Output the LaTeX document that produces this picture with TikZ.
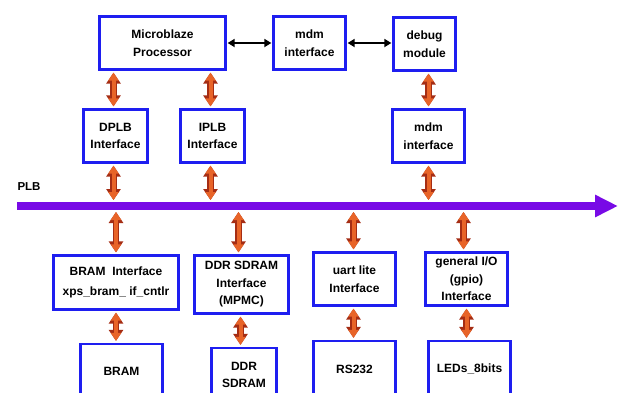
\documentclass[tikz,border=0pt]{standalone}
\usepackage{fontspec}
\setmainfont{Liberation Sans}
\usetikzlibrary{arrows.meta}
\definecolor{boxblue}{RGB}{30,30,240}
\definecolor{buspurple}{RGB}{120,10,230}
\definecolor{arroworange}{RGB}{232,100,40}
\definecolor{arrowedge}{RGB}{165,45,20}
\begin{document}
\begin{tikzpicture} [
          x = 1pt, y = -1pt,
          block/.style = {draw=boxblue, line width=2.3pt, fill=white, inner sep=0pt, align=center,
                          font=\bfseries\fontsize{12}{17.5}\selectfont},
          fatarrow/.style = {draw=arroworange, line width=4pt, shorten >=2pt, shorten <=2pt,
                          {Triangle[width=10pt,length=8pt]}-{Triangle[width=10pt,length=8pt]},
                          preaction={draw=arrowedge, line width=6.5pt,
                          {Triangle[width=14pt,length=11pt]}-{Triangle[width=14pt,length=11pt]}}},
          link/.style = {draw=black, line width=1.7pt, shorten >=1pt, shorten <=1pt,
                          {Triangle[width=8pt,length=7pt]}-{Triangle[width=8pt,length=7pt]}},
          bus/.style = {draw=buspurple, line width=8pt, -{Triangle[width=21pt,length=23pt]}}
          ]
          \useasboundingbox[fill=white] (0,0) rectangle (621,392);
          \node[block, minimum width=126pt, minimum height=53pt] (cpu) at (162.5,43) {Microblaze\\Processor};
          \node[block, minimum width=72pt, minimum height=53pt] (mdmif) at (309.5,43) {mdm\\interface};
          \node[block, minimum width=62pt, minimum height=53pt] (debug) at (424.5,44) {debug\\module};
          \node[block, minimum width=64pt, minimum height=53pt] (dplb) at (115.5,136) {DPLB\\Interface};
          \node[block, minimum width=64pt, minimum height=53pt] (iplb) at (212.5,136) {IPLB\\Interface};
          \node[block, minimum width=72pt, minimum height=53pt] (mdm) at (428.5,136) {mdm\\interface};
          \node[font=\bfseries\fontsize{11.5}{13}\selectfont, anchor=west] (plb) at (14,187) {PLB};
          \coordinate (busL) at (17,206);
          \coordinate (busR) at (618,206);
          \draw[bus] (busL) -- (busR);
          \node[block, minimum width=125pt, minimum height=54pt] (bramif) at (116,282.5) {BRAM\ \ Interface\\[3pt]xps\_bram\_ if\_cntlr};
          \node[block, minimum width=94pt, minimum height=58pt] (ddrif) at (241.5,284.5) {DDR SDRAM\\Interface\\(MPMC)};
          \node[block, minimum width=82pt, minimum height=53pt] (uart) at (354.5,279) {uart lite\\Interface};
          \node[block, minimum width=82pt, minimum height=53pt] (gpio) at (466.5,279) {general I/O\\(gpio)\\Interface};
          \node[block, minimum width=82pt, minimum height=54pt] (bram) at (121.5,371) {BRAM};
          \node[block, minimum width=65pt, minimum height=54pt] (ddr) at (244,375) {DDR\\SDRAM};
          \node[block, minimum width=82pt, minimum height=56pt] (rs232) at (354.5,369) {RS232};
          \node[block, minimum width=82pt, minimum height=56pt] (leds) at (469.5,369) {LEDs\_8bits};
          \draw[link] (cpu.east) -- (mdmif.west);
          \draw[link] (mdmif.east) -- (debug.west |- mdmif.east);
          \draw[fatarrow] ([xshift=-2pt]dplb.north |- cpu.south) -- ([xshift=-2pt]dplb.north);
          \draw[fatarrow] ([xshift=-2pt]iplb.north |- cpu.south) -- ([xshift=-2pt]iplb.north);
          \draw[fatarrow] (debug.south -| mdm.north) -- (mdm.north);
          \draw[fatarrow, shorten >=6pt] ([xshift=-2pt]dplb.south) -- ([xshift=-2pt]dplb.south |- busL);
          \draw[fatarrow, shorten >=6pt] ([xshift=-2pt]iplb.south) -- ([xshift=-2pt]iplb.south |- busL);
          \draw[fatarrow, shorten >=6pt] (mdm.south) -- (mdm.south |- busL);
          \draw[fatarrow, shorten <=6pt] (bramif.north |- busL) -- (bramif.north);
          \draw[fatarrow, shorten <=6pt] ([xshift=-3pt]ddrif.north |- busL) -- ([xshift=-3pt]ddrif.north);
          \draw[fatarrow, shorten <=6pt] ([xshift=-1pt]uart.north |- busL) -- ([xshift=-1pt]uart.north);
          \draw[fatarrow, shorten <=6pt] ([xshift=-3pt]gpio.north |- busL) -- ([xshift=-3pt]gpio.north);
          \draw[fatarrow] (bramif.south) -- (bramif.south |- bram.north);
          \draw[fatarrow] ([xshift=-1pt]ddrif.south) -- ([xshift=-1pt]ddrif.south |- ddr.north);
          \draw[fatarrow] ([xshift=-1pt]uart.south) -- ([xshift=-1pt]uart.south |- rs232.north);
          \draw[fatarrow] (gpio.south) -- (gpio.south |- leds.north);
        \end{tikzpicture}
\end{document}
